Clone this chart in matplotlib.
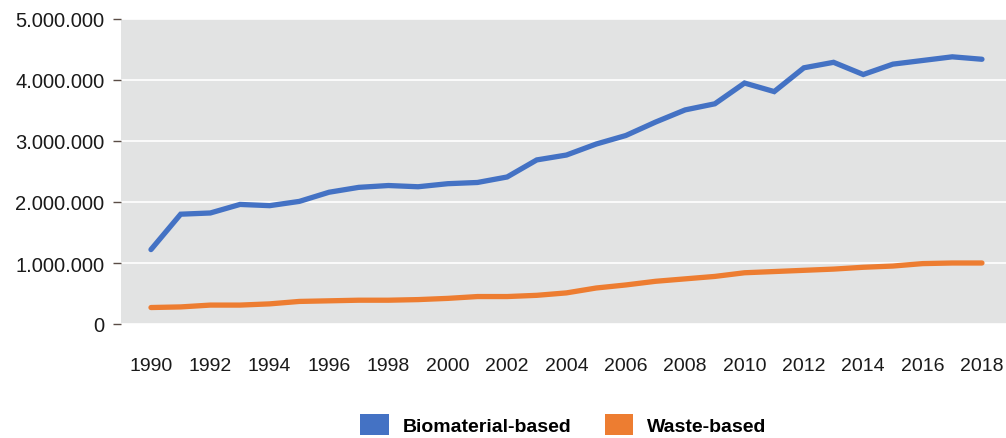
import matplotlib
matplotlib.use("Agg")
import matplotlib.pyplot as plt
from matplotlib.patches import Patch
from matplotlib.ticker import FuncFormatter

years = list(range(1990, 2019))
biomaterial = [1.22, 1.80, 1.82, 1.96, 1.94, 2.01, 2.16, 2.24, 2.27, 2.25,
               2.30, 2.32, 2.41, 2.69, 2.77, 2.95, 3.09, 3.31, 3.51, 3.61,
               3.95, 3.81, 4.20, 4.29, 4.09, 4.26, 4.32, 4.38, 4.34]
waste = [0.27, 0.28, 0.31, 0.31, 0.33, 0.37, 0.38, 0.39, 0.39, 0.40,
         0.42, 0.45, 0.45, 0.47, 0.51, 0.59, 0.64, 0.70, 0.74, 0.78,
         0.84, 0.86, 0.88, 0.90, 0.93, 0.95, 0.99, 1.00, 1.00]
biomaterial = [v * 1e6 for v in biomaterial]
waste = [v * 1e6 for v in waste]
series_labels = ["Biomaterial-based", "Waste-based"]
colors = ["#4472C4", "#ED7D31"]

plt.rcParams['font.family'] = ['Liberation Sans', 'DejaVu Sans']

fig = plt.figure(figsize=(10.06, 4.39), dpi=100)
ax = fig.add_axes([121 / 1006, 1 - 325 / 439, 1 - 121 / 1006, 305 / 439])
ax.set_facecolor("#E2E3E3")

ax.plot(years, biomaterial, color=colors[0], lw=3.8, solid_capstyle="round",
        solid_joinstyle="miter")
ax.plot(years, waste, color=colors[1], lw=3.8, solid_capstyle="round",
        solid_joinstyle="miter")

ax.set_xlim(1988.99, 2018.81)
ax.set_ylim(0, 5e6)
ax.set_xticks(range(1990, 2019, 2))
ax.set_yticks([0, 1e6, 2e6, 3e6, 4e6, 5e6])
ax.yaxis.set_major_formatter(
    FuncFormatter(lambda v, p: f"{int(v):,}".replace(",", ".")))

ax.grid(axis="y", color="white", lw=1.2)
ax.set_axisbelow(True)
for s in ax.spines.values():
    s.set_visible(False)

ax.tick_params(axis="y", length=6, width=1, color="#5a4d46", pad=6,
               labelsize=14.5, labelcolor="#1a1a1a")
ax.tick_params(axis="x", length=0, pad=24, labelsize=14, labelcolor="#1a1a1a")

handles = [Patch(facecolor=c, edgecolor="none") for c in colors]
fig.legend(handles, series_labels, loc="center", ncol=2,
           bbox_to_anchor=(0.56, 0.03), frameon=False,
           prop={"weight": "bold", "size": 14},
           handlelength=1.45, handleheight=1.3, handletextpad=0.7,
           columnspacing=1.75, borderpad=0)

fig.savefig("out.png", dpi=100)
